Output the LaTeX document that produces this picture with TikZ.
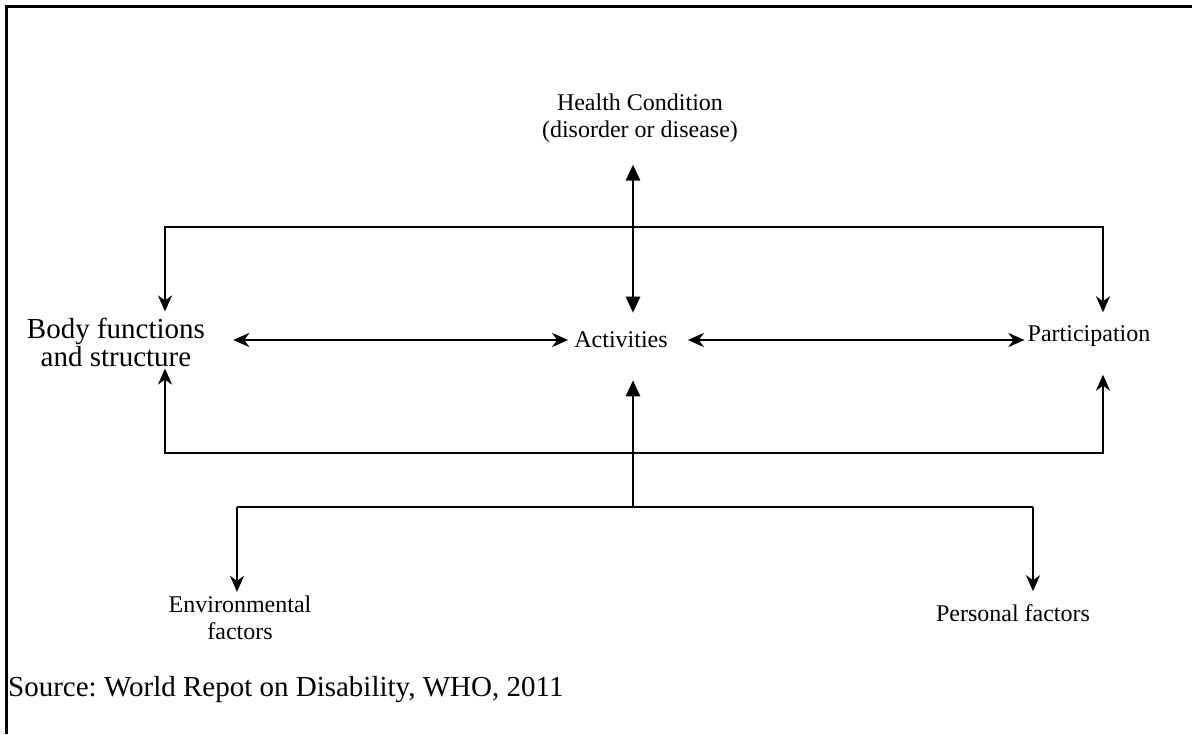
\documentclass[tikz,border=0pt]{standalone}
\usepackage{fontspec}
\setmainfont{Liberation Serif}
\usetikzlibrary{arrows.meta,calc}
\frenchspacing

\tikzset{
  lbl/.style={inner sep=0pt, align=center, font=\fontsize{24}{27}\selectfont},
  biglbl/.style={lbl, font=\fontsize{29}{28}\selectfont},
  bus/.style={line width=2.6pt},
  biarr/.style={bus, {Stealth[length=16pt,width=14pt,inset=5pt]}-{Stealth[length=16pt,width=14pt,inset=5pt]}},
  vbiarr/.style={bus, {Triangle[length=16pt,width=14pt]}-{Triangle[length=16pt,width=14pt]}},
  onearr/.style={bus, -{Stealth[length=16pt,width=14pt,inset=5pt]}},
}

\begin{document}
\begin{tikzpicture}[x=1pt,y=-1pt]
  \useasboundingbox (0,0) rectangle (1192,734);
  \draw[line width=3pt] (6,734) -- (6,6) -- (1192,6);

  % labels
  \node[lbl] (health) at (640,118) {Health Condition\\(disorder or disease)};
  \node[biglbl] (body) at (116,342) {Body functions\\and structure};
  \node[lbl] (act) at (621,340) {Activities};
  \node[lbl] (part) at (1089,336) {Participation};
  \node[lbl] (env) at (240,618) {Environmental\\factors};
  \node[lbl] (pers) at (1013,613) {Personal factors};
  \node[biglbl, anchor=west] (src) at (8,690) {Source: World Repot on Disability, WHO, 2011};

  % bus corners
  \coordinate (tl) at (165,227);
  \coordinate (tr) at (1103,227);
  \coordinate (bl) at (165,453);
  \coordinate (br) at (1103,453);
  \coordinate (ml) at (237,507);
  \coordinate (mr) at (1033,507);
  \coordinate (mc) at (633,507);

  % health condition <-> activities
  \draw[vbiarr, shorten <=22pt, shorten >=19pt] (health.south -| mc) -- (act.north -| mc);

  % top and bottom buses
  \draw[biarr, shorten <=6pt, shorten >=13pt] (tl |- body.north) -- (tl) -- (tr) -- (tr |- part.north);
  \draw[biarr, shorten <=2pt, shorten >=28pt] (tl |- body.south) -- (bl) -- (br) -- (br |- part.south);

  % middle row
  \draw[biarr, shorten <=28pt, shorten >=6pt] (body.east |- act) -- (act.west);
  \draw[biarr, shorten <=20pt, shorten >=3pt] (act.east) -- (part.west |- act);

  % contextual factors
  \draw[bus] (ml) -- (mr);
  \draw[vbiarr, -{Triangle[length=16pt,width=14pt]}, shorten >=32pt] (mc) -- (act.south -| mc);
  \draw[onearr, shorten >=4pt] (ml) -- (ml |- env.north);
  \draw[onearr, shorten >=13pt] (mr) -- (mr |- pers.north);
\end{tikzpicture}
\end{document}
